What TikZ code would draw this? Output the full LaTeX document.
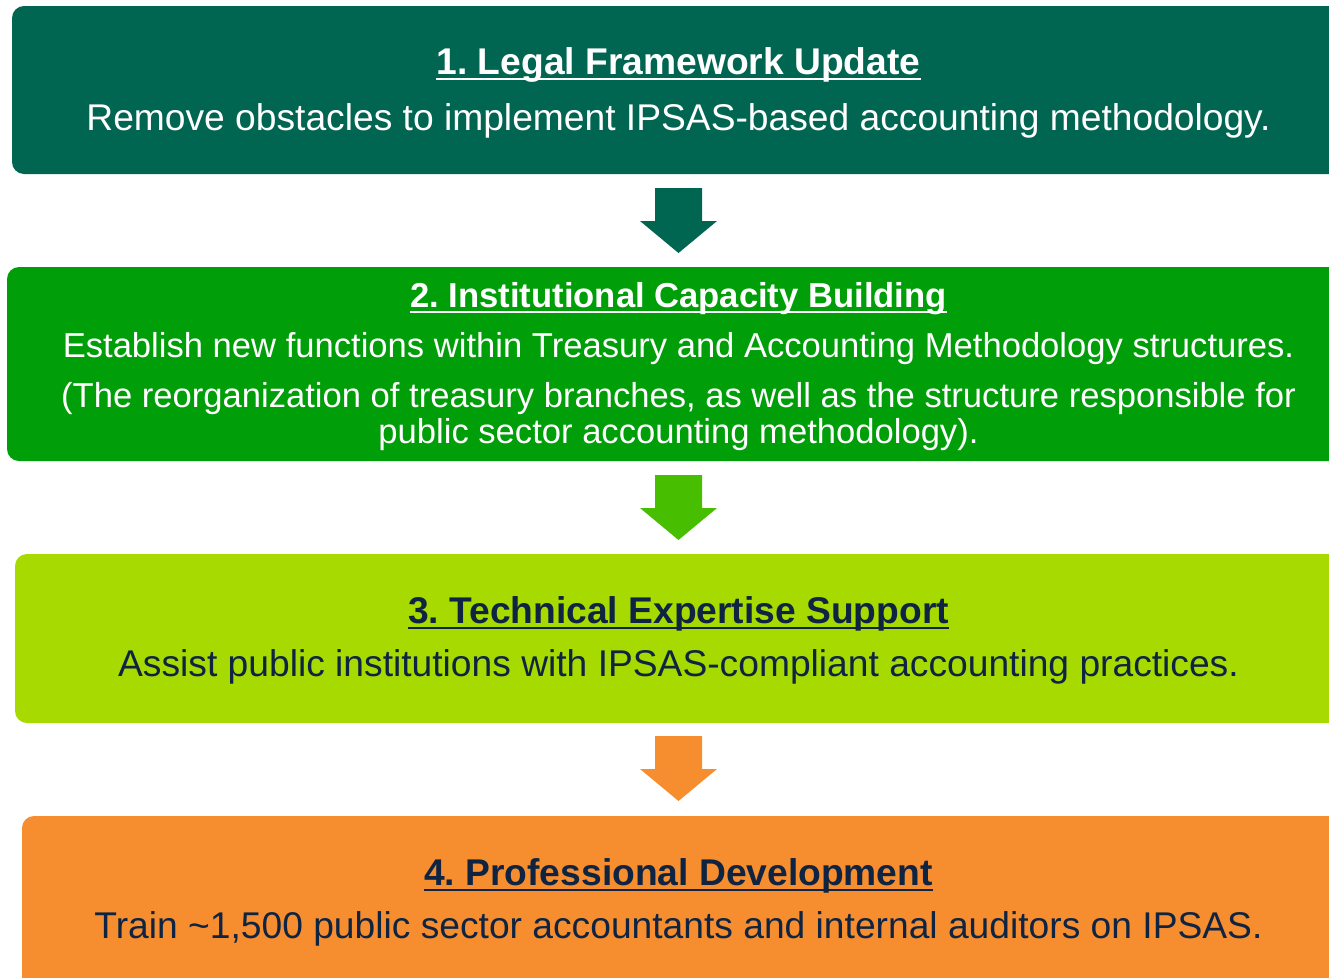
\documentclass[tikz,border=0pt]{standalone}
\usepackage{fontspec}
\setmainfont{Liberation Sans}
\frenchspacing
\definecolor{cTeal}{RGB}{0,101,81}
\definecolor{cGreen}{RGB}{0,158,8}
\definecolor{cArrowG}{RGB}{72,190,0}
\definecolor{cLime}{RGB}{166,218,0}
\definecolor{cOrange}{RGB}{246,141,46}
\definecolor{cNavy}{RGB}{14,36,66}
\tikzset{
  panel/.style={rounded corners=12pt},
  ttl/.style={anchor=base,inner sep=0pt,font=\frenchspacing\fontsize{37.2}{44}\selectfont\bfseries},
  ttlsmall/.style={anchor=base,inner sep=0pt,font=\frenchspacing\fontsize{34.6}{40}\selectfont\bfseries},
  body/.style={anchor=base,inner sep=0pt,font=\frenchspacing\fontsize{37.2}{44}\selectfont},
  bodysmall/.style={anchor=base,inner sep=0pt,font=\frenchspacing\fontsize{34.6}{40}\selectfont},
  uline/.style={line width=2.4pt},
}
\newcommand{\blockarrow}[2]{% #1 colour, #2 top y
  \fill[#1] (655,#2) -- (702,#2) -- (702,#2+33) -- (717,#2+33) -- (678.5,#2+65)
    -- (640,#2+33) -- (655,#2+33) -- cycle;}
\begin{document}
\begin{tikzpicture}[x=1pt,y=-1pt]
\useasboundingbox (0,0) rectangle (1329,977);
\clip (0,0) rectangle (1329,977);
% panels
\fill[cTeal,panel] (12,6) rectangle (1360,174);
\fill[cGreen,panel] (7,267) rectangle (1360,461);
\fill[cLime,panel] (15,554) rectangle (1360,723);
\fill[cOrange,panel] (22,816) rectangle (1360,1010);
% arrows
\blockarrow{cTeal}{188}
\blockarrow{cArrowG}{475}
\blockarrow{cOrange}{736}
% box 1
\node[ttl,text=white] (t1) at (678.5,74) {1. Legal Framework Update};
\draw[uline,white] ([yshift=-5pt]t1.base west) -- ([yshift=-5pt]t1.base east);
\node[body,text=white] (b1) at (678.5,130) {Remove obstacles to implement IPSAS-based accounting methodology.};
% box 2
\node[ttlsmall,text=white] (t2) at (678.5,307) {2. Institutional Capacity Building};
\draw[uline,white] ([yshift=-5pt]t2.base west) -- ([yshift=-5pt]t2.base east);
\node[bodysmall,text=white] (b2a) at (678.5,357) {Establish new functions within Treasury and Accounting Methodology structures.};
\node[bodysmall,text=white] (b2b) at (678.5,407) {(The reorganization of treasury branches, as well as the structure responsible for};
\node[bodysmall,text=white] (b2c) at (678.5,443) {public sector accounting methodology).};
% box 3
\node[ttl,text=cNavy] (t3) at (678.5,623) {3. Technical Expertise Support};
\draw[uline,cNavy] ([yshift=-5pt]t3.base west) -- ([yshift=-5pt]t3.base east);
\node[body,text=cNavy] (b3) at (678.5,676) {Assist public institutions with IPSAS-compliant accounting practices.};
% box 4
\node[ttl,text=cNavy] (t4) at (678.5,885) {4. Professional Development};
\draw[uline,cNavy] ([yshift=-5pt]t4.base west) -- ([yshift=-5pt]t4.base east);
\node[body,text=cNavy] (b4) at (678.5,938) {Train \textasciitilde1,500 public sector accountants and internal auditors on IPSAS.};
\end{tikzpicture}
\end{document}
